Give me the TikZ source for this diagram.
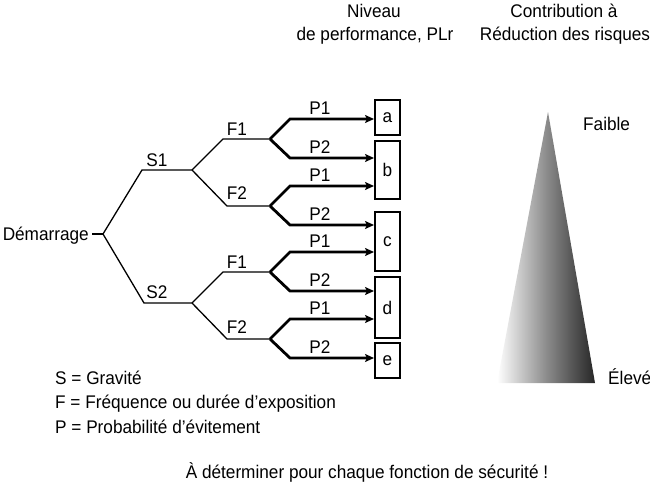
\documentclass[tikz,border=0pt]{standalone}
\usepackage{fontspec}
\setmainfont{Liberation Sans}[FakeStretch=0.94]
\usetikzlibrary{arrows.meta,calc}
\begin{document}
\begin{tikzpicture}[x=1pt,y=-1pt,
  txt/.style={font=\fontsize{18.3}{21}\selectfont, inner sep=0pt},
  thin/.style={line width=1.3pt},
  thick/.style={line width=2.8pt, line join=miter},
  arr/.style={thick, -{Stealth[length=9pt,width=8pt,inset=2pt]}},
  plbox/.style={draw, line width=2pt, minimum width=25pt, inner sep=0pt, font=\fontsize{18.3}{21}\selectfont}
]
\useasboundingbox (0,0) rectangle (650,488);

% header
\node[txt, anchor=base] (h1) at (374,17) {Niveau};
\node[txt, anchor=base] (h2) at (375,40) {de performance, PLr};
\node[txt, anchor=base] (h3) at (564,17) {Contribution à};
\node[txt, anchor=base] (h4) at (565,40) {Réduction des risques};

% boxes
\node[plbox, minimum height=35pt] (a) at (387.5,117.5) {a};
\node[plbox, minimum height=58pt] (b) at (387.5,170) {b};
\node[plbox, minimum height=59pt] (c) at (387.5,241.5) {c};
\node[plbox, minimum height=61pt] (d) at (387.5,307.5) {d};
\node[plbox, minimum height=35pt] (e) at (387.5,360.5) {e};

% tree
\node[txt, anchor=east] (start) at (89,236) {Démarrage};
\coordinate (d0) at (92,234);
\coordinate (root) at (103,234);
\coordinate (s1a) at (142,170); \coordinate (s1) at (192,170);
\coordinate (s2a) at (144,303); \coordinate (s2) at (192,303);
\coordinate (f11a) at (223,139); \coordinate (f11) at (270,139);
\coordinate (f12a) at (227,206); \coordinate (f12) at (270,206);
\coordinate (f21a) at (223,272); \coordinate (f21) at (270,272);
\coordinate (f22a) at (227,339); \coordinate (f22) at (270,339);

\draw[thin] (d0) -- (root);
\draw[thin] (root) -- (s1a) -- (s1);
\draw[thin] (root) -- (s2a) -- (s2);
\draw[thin] (s1) -- (f11a) -- (f11);
\draw[thin] (s1) -- (f12a) -- (f12);
\draw[thin] (s2) -- (f21a) -- (f21);
\draw[thin] (s2) -- (f22a) -- (f22);

\node[txt, anchor=base] (ls1) at (157,166) {S1};
\node[txt, anchor=base] (ls2) at (157,298) {S2};
\node[txt, anchor=base] (lf11) at (237,135) {F1};
\node[txt, anchor=base] (lf12) at (237,199) {F2};
\node[txt, anchor=base] (lf21) at (237,268) {F1};
\node[txt, anchor=base] (lf22) at (237,333) {F2};

% P branches
\foreach \f/\up/\dn in {f11/a/b, f12/b/c, f21/c/d, f22/d/e}{
  \coordinate (\f u) at ($(\f)+(20,-20)$);
  \coordinate (\f d) at ($(\f)+(20,19)$);
  \draw[arr] (\f) -- (\f u) -- (\f u -| \up.west);
  \draw[arr] (\f) -- (\f d) -- (\f d -| \dn.west);
  \node[txt, anchor=base] at ($(\f u)+(30,-5)$) {P1};
  \node[txt, anchor=base] at ($(\f d)+(30,-5)$) {P2};
}

% triangle
\coordinate (tapex) at (548,112);
\coordinate (tl) at (497,383);
\coordinate (tr) at (595,383);
\shade[left color=white, right color=black!85, middle color=black!45]
  (tapex) -- (tl) -- (tr) -- cycle;
\node[txt, anchor=base west] (faible) at (583,130) {Faible};
\node[txt, anchor=base west] (eleve) at (608,384) {Élevé};

% legend
\node[txt, anchor=base west] (l1) at (55,384) {S = Gravité};
\node[txt, anchor=base west] (l2) at (55,408) {F = Fréquence ou durée d’exposition};
\node[txt, anchor=base west] (l3) at (55,433) {P = Probabilité d’évitement};
\node[txt, anchor=base] (bottom) at (367,478) {À déterminer pour chaque fonction de sécurité !};
\end{tikzpicture}
\end{document}
